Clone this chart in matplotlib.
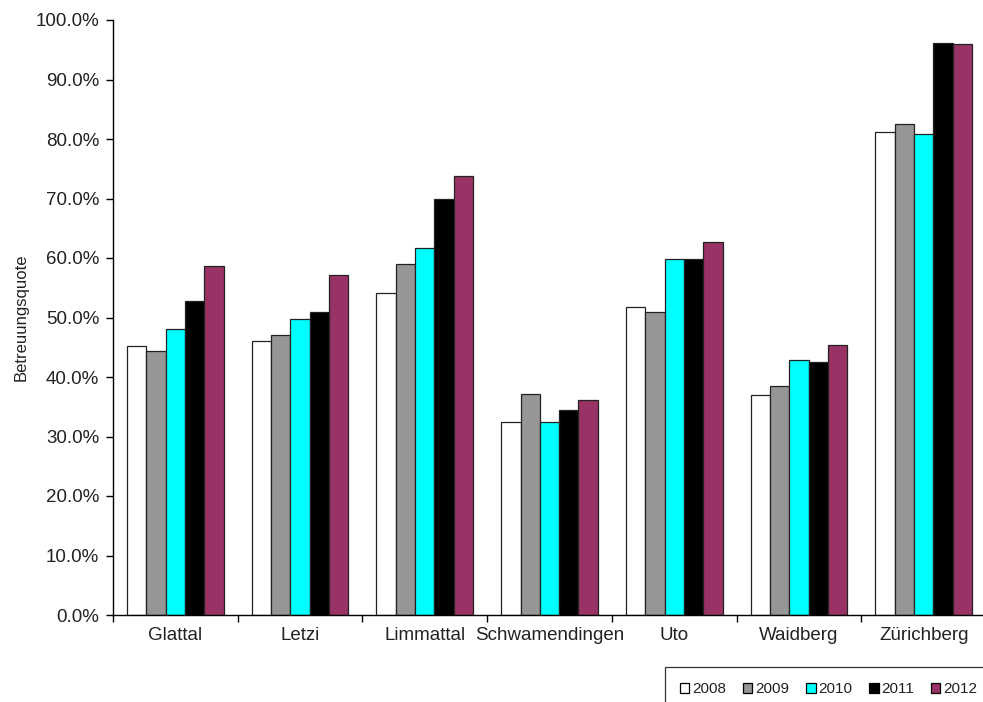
import matplotlib.pyplot as plt
from matplotlib.patches import Patch
from matplotlib.ticker import FuncFormatter
import numpy as np

plt.rcParams['font.family'] = ['Liberation Sans', 'DejaVu Sans']

# Betreuungsquote je Kreis und Jahr (in %)
KREISE = ['Glattal', 'Letzi', 'Limmattal', 'Schwamendingen', 'Uto', 'Waidberg', 'Zürichberg']
JAHRE = ['2008', '2009', '2010', '2011', '2012']

Q2008 = [45.2, 46.0, 54.2, 32.4, 51.8, 37.0, 81.2]
Q2009 = [44.4, 47.1, 59.0, 37.2, 51.0, 38.5, 82.6]
Q2010 = [48.1, 49.7, 61.6, 32.4, 59.8, 42.8, 80.8]
Q2011 = [52.8, 51.0, 70.0, 34.5, 59.8, 42.6, 96.2]
Q2012 = [58.7, 57.1, 73.8, 36.2, 62.7, 45.3, 96.0]

FARBEN = ['white', '#969696', '#00ffff', 'black', '#993366']

werte = [Q2008, Q2009, Q2010, Q2011, Q2012]

fig = plt.figure(figsize=(9.83, 7.02), dpi=100)
ax = fig.add_axes([113/983, 1 - 615/702, 873/983, 595/702])

x = np.arange(len(KREISE))
w = 0.155
for i, (jahr, q) in enumerate(zip(JAHRE, werte)):
    ax.bar(x + (i - 2) * w, q, width=w, color=FARBEN[i], edgecolor='#222222',
           linewidth=0.9, label=jahr)

ax.set_xlim(-0.5, len(KREISE) - 0.5)
ax.set_ylim(0, 100)
ax.set_yticks(np.arange(0, 101, 10))
ax.yaxis.set_major_formatter(FuncFormatter(lambda v, p: '{:.1f}%'.format(v)))

# Kategorienamen mittig, Teilstriche zwischen den Gruppen
ax.set_xticks(x)
ax.set_xticklabels(KREISE)
ax.set_xticks(np.arange(-0.5, len(KREISE), 1), minor=True)
ax.tick_params(axis='x', which='major', length=0, pad=9, labelsize=13.5, labelcolor='#222222')
ax.tick_params(axis='x', which='minor', length=5, direction='out', width=1)
ax.tick_params(axis='y', length=5, direction='out', width=1, labelsize=13.5, pad=5,
               labelcolor='#222222')

for s in ['top', 'right']:
    ax.spines[s].set_visible(False)
for s in ['left', 'bottom']:
    ax.spines[s].set_color('black')
    ax.spines[s].set_linewidth(1)

fig.text(21/983, 1 - 317/702, 'Betreuungsquote', rotation=90, ha='center', va='center',
         fontsize=12, color='#222222')

handles = [Patch(facecolor=c, edgecolor='black', linewidth=0.9) for c in FARBEN]
leg = fig.legend(handles, JAHRE, loc='upper left', bbox_to_anchor=(665/983, 1 - 667/702),
                 ncol=5, fontsize=11, frameon=True, fancybox=False,
                 handlelength=0.6, handleheight=0.6, handletextpad=0.2,
                 columnspacing=1.1, borderpad=1.0, borderaxespad=0)
leg.get_frame().set_edgecolor('black')
leg.get_frame().set_linewidth(0.9)
for t in leg.get_texts():
    t.set_color('#222222')

fig.savefig('out.png', dpi=100)
